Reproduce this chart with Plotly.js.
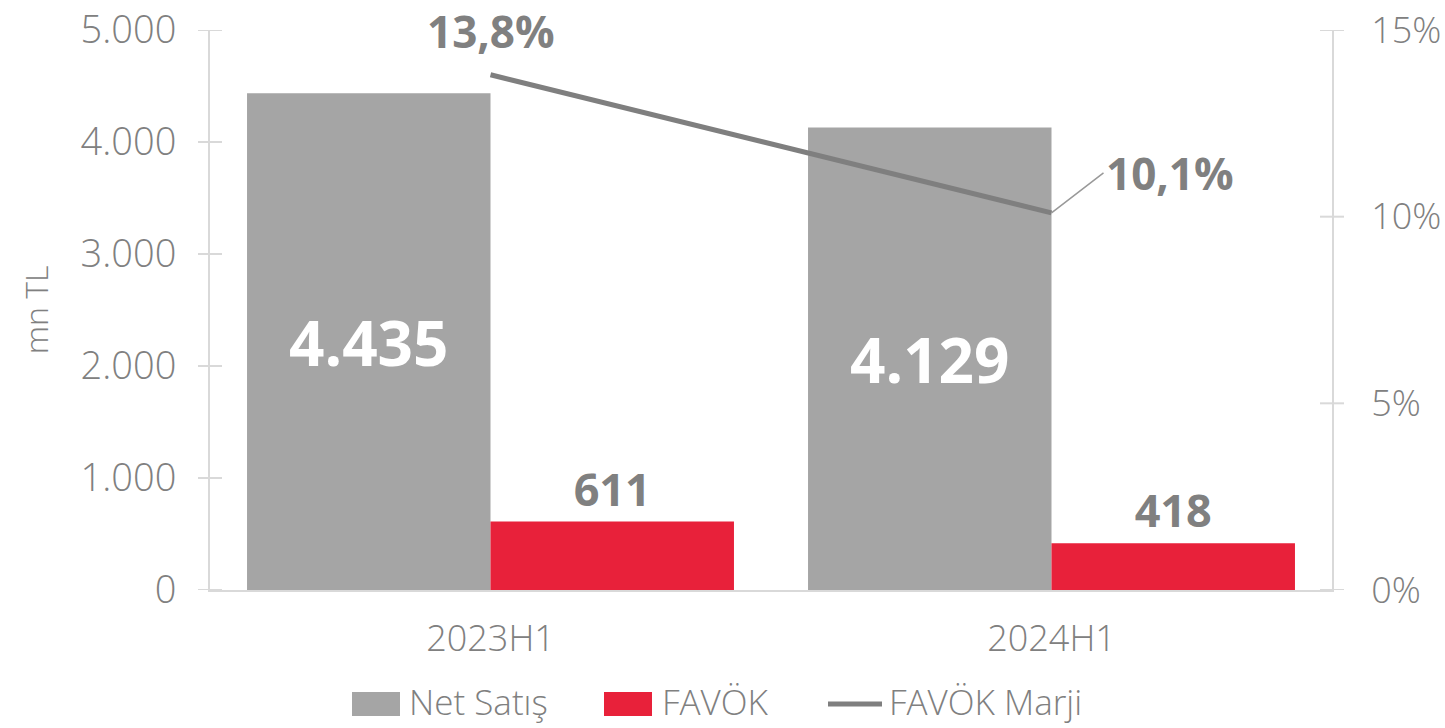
<!DOCTYPE html>
<html><head><meta charset="utf-8">
<script src="https://cdn.plot.ly/plotly-3.0.1.min.js"></script>
<style>html,body{margin:0;padding:0;background:#fff}#chart{width:1445px;height:728px}</style>
</head><body><div id="chart"></div>
<script>
const categories = ['2023H1', '2024H1'];
const netSatis = [4435, 4129];
const favok = [611, 418];
const favokMarji = [13.8, 10.1];
const netSatisLabels = ['4.435', '4.129'];
const favokLabels = ['611', '418'];
const marjiLabels = ['13,8%', '10,1%'];
const leftTickVals = [0, 1000, 2000, 3000, 4000, 5000];
const leftTickText = ['0', '1.000', '2.000', '3.000', '4.000', '5.000'];
const rightTickVals = [0, 5, 10, 15];
const rightTickText = ['0%', '5%', '10%', '15%'];
const seriesNames = ['Net Satış', 'FAVÖK', 'FAVÖK Marji'];
const seriesColors = ['#a5a5a5', '#e8213a', '#7f7f7f'];

const FONT = 'Open Sans, Lato, sans-serif';
const GREY_TXT = '#808080';
const AXIS = '#d9d9d9';
const PLOT_W = 1445 - 210 - 113;
const PLOT_H = 728 - 30 - 138;

const traces = [
  {type:'bar', name:seriesNames[0], x:categories, y:netSatis, marker:{color:seriesColors[0]},
   text:netSatisLabels, textposition:'inside', insidetextanchor:'middle', textangle:0,
   textfont:{family:FONT, size:62, color:'#ffffff', weight:'bold'}, hoverinfo:'x+y'},
  {type:'bar', name:seriesNames[1], x:categories, y:favok, marker:{color:seriesColors[1]},
   text:favokLabels, textposition:'outside', textangle:0, cliponaxis:false,
   textfont:{family:FONT, size:45, color:GREY_TXT, weight:'bold'}, hoverinfo:'x+y'},
  {type:'scatter', mode:'lines', name:seriesNames[2], x:categories, y:favokMarji, yaxis:'y2',
   line:{color:seriesColors[2], width:5}, hoverinfo:'x+y'}
];

const annotations = [
  {x:categories[0], y:favokMarji[0], xref:'x', yref:'y2', text:marjiLabels[0], showarrow:false,
   yshift:44, font:{family:FONT, size:44, color:GREY_TXT, weight:'bold'}},
  {x:categories[1], y:favokMarji[1], xref:'x', yref:'y2', text:marjiLabels[1], showarrow:true,
   arrowhead:0, arrowwidth:1.5, arrowcolor:'#999999', ax:52, ay:-40, xanchor:'left', yanchor:'middle',
   font:{family:FONT, size:44, color:GREY_TXT, weight:'bold'}}
];

// crossing tick marks
const shapes = [];
const tk = 12 / PLOT_W;
leftTickVals.forEach(v => shapes.push({type:'line', xref:'paper', yref:'y', x0:-tk, x1:tk, y0:v, y1:v,
  line:{color:AXIS, width:2}}));
rightTickVals.forEach(v => shapes.push({type:'line', xref:'paper', yref:'y2', x0:1-tk, x1:1+tk, y0:v, y1:v,
  line:{color:AXIS, width:2}}));

// custom legend (wide swatches)
const px = X => (X - 210) / PLOT_W;
const py = Y => (590 - Y) / PLOT_H;
const legendItems = [
  {sw0:352, sw1:400, tx:407, kind:'rect'},
  {sw0:604, sw1:652, tx:660, kind:'rect'},
  {sw0:828, sw1:882, tx:887, kind:'line'}
];
legendItems.forEach((it, i) => {
  if (it.kind === 'rect') {
    shapes.push({type:'rect', xref:'paper', yref:'paper', x0:px(it.sw0), x1:px(it.sw1), y0:py(716), y1:py(692),
      fillcolor:seriesColors[i], line:{width:0}});
  } else {
    shapes.push({type:'line', xref:'paper', yref:'paper', x0:px(it.sw0), x1:px(it.sw1), y0:py(704), y1:py(704),
      line:{color:seriesColors[i], width:5}});
  }
  annotations.push({xref:'paper', yref:'paper', x:px(it.tx), y:py(701), xanchor:'left', yanchor:'middle',
    showarrow:false, text:seriesNames[i], font:{family:FONT, size:35, color:GREY_TXT, weight:300}});
});

const layout = {
  width:1445, height:728,
  margin:{l:210, r:113, t:30, b:138},
  paper_bgcolor:'#fff', plot_bgcolor:'#fff',
  barmode:'group', bargap:0.132, bargroupgap:0,
  font:{family:FONT, color:GREY_TXT},
  xaxis:{type:'category', range:[-0.5, 1.5], showline:true, linecolor:AXIS, linewidth:2,
    ticks:'', tickfont:{family:FONT, size:36, color:GREY_TXT, weight:300}, showgrid:false, zeroline:false,
    ticklabelstandoff:16},
  yaxis:{range:[0, 5000], tickvals:leftTickVals, ticktext:leftTickText, showline:true, linecolor:AXIS, linewidth:2,
    ticks:'', showgrid:false, zeroline:false, ticklabelstandoff:24,
    tickfont:{family:FONT, size:38, color:GREY_TXT, weight:300},
    title:{text:'mn TL', font:{family:FONT, size:32, color:GREY_TXT, weight:300}, standoff:22}},
  yaxis2:{range:[0, 15], overlaying:'y', side:'right', tickvals:rightTickVals, ticktext:rightTickText,
    showline:true, linecolor:AXIS, linewidth:2, ticks:'', ticklabelstandoff:30,
    showgrid:false, zeroline:false, tickfont:{family:FONT, size:36, color:GREY_TXT, weight:300}},
  showlegend:false,
  shapes:shapes,
  annotations:annotations
};

Plotly.newPlot('chart', traces, layout, {displayModeBar:false, staticPlot:true});
</script></body></html>
